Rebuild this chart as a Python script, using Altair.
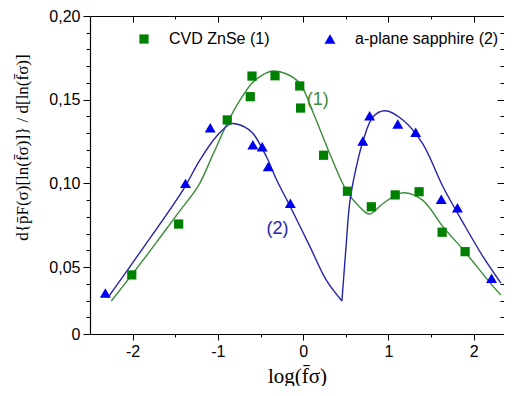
import altair as alt
import pandas as pd

# ---------------- data ----------------
zn_x = [-2.01, -1.46, -0.89, -0.60, -0.62, -0.33, -0.04, -0.03, 0.24, 0.52, 0.80, 1.08, 1.36, 1.63, 1.90]
zn_y = [0.0453, 0.0757, 0.1379, 0.1641, 0.1518, 0.1643, 0.1582, 0.1450, 0.1168, 0.0953, 0.0860, 0.0931, 0.0950, 0.0708, 0.0592]

sa_x = [-2.32, -1.38, -1.09, -0.59, -0.48, -0.41, -0.15, 0.70, 0.78, 1.11, 1.32, 1.62, 1.81, 2.21]
sa_y = [0.0345, 0.1000, 0.1333, 0.1231, 0.1219, 0.1100, 0.0881, 0.1253, 0.1404, 0.1355, 0.1305, 0.0905, 0.0855, 0.0433]

fit1_x = [-2.25, -2.0, -1.78, -1.46, -1.23, -1.06, -0.89, -0.75, -0.60, -0.47, -0.35, -0.20, -0.04, 0.12, 0.31,
          0.51, 0.66, 0.78, 0.94, 1.17, 1.40, 1.64, 1.88, 2.23, 2.32]
fit1_y = [0.0297, 0.0460, 0.0607, 0.0827, 0.0985, 0.1170, 0.1360, 0.1490, 0.1598, 0.1650, 0.1671, 0.1655, 0.1598,
          0.1419, 0.1180, 0.0955, 0.0860, 0.0817, 0.0881, 0.0944, 0.0900, 0.0741, 0.0602, 0.0383, 0.0333]

# fit (2) has a cusp at its minimum: two branches
fit2a_x = [-2.29, -1.88, -1.41, -1.21, -1.02, -0.84, -0.70, -0.59, -0.43, -0.31, -0.15, 0.08, 0.27, 0.455]
fit2a_y = [0.0317, 0.0612, 0.0960, 0.1140, 0.1279, 0.1357, 0.1340, 0.1299, 0.1159, 0.1020, 0.0860, 0.0622, 0.0423, 0.0297]
fit2b_x = [0.455, 0.50, 0.55, 0.62, 0.70, 0.82, 0.96, 1.17, 1.40, 1.64, 1.88, 2.11, 2.32]
fit2b_y = [0.0297, 0.0600, 0.0900, 0.1090, 0.1249, 0.1398, 0.1434, 0.1379, 0.1239, 0.0980, 0.0761, 0.0562, 0.0404]

series_names = ["CVD ZnSe (1)", "a-plane sapphire (2)"]
curve_labels = ["(1)", "(2)"]
label_x = [0.17, -0.30]
label_y = [0.1498, 0.0726]

x_major = [-2, -1, 0, 1, 2]
x_minor = [-1.5, -0.5, 0.5, 1.5]
y_major = [0.01, 0.05, 0.10, 0.15, 0.20]
y_minor = [0.02, 0.03, 0.04, 0.06, 0.07, 0.08, 0.09, 0.11, 0.12, 0.13, 0.14, 0.16, 0.17, 0.18, 0.19]

# ---------------- frames ----------------
pts = pd.DataFrame({
    "x": zn_x + sa_x,
    "y": zn_y + sa_y,
    "series": [series_names[0]] * len(zn_x) + [series_names[1]] * len(sa_x),
})
l1 = pd.DataFrame({"x": fit1_x, "y": fit1_y})
l2 = pd.DataFrame({"x": fit2a_x + fit2b_x, "y": fit2a_y + fit2b_y,
                   "seg": ["a"] * len(fit2a_x) + ["b"] * len(fit2b_x)})
lab1 = pd.DataFrame({"x": [label_x[0]], "y": [label_y[0]], "t": [curve_labels[0]]})
lab2 = pd.DataFrame({"x": [label_x[1]], "y": [label_y[1]], "t": [curve_labels[1]]})

xs = alt.Scale(domain=[-2.5, 2.356], nice=False, zero=False)
ys = alt.Scale(domain=[0.01, 0.20], nice=False, zero=False)

GREEN_M = "#008000"
BLUE_M = "#0000f0"
GREEN_L = "#3c8c3c"
BLUE_L = "#2424a8"

SANS = "Liberation Sans"
SERIF = "Liberation Serif"

def blank_axis(orient, values, size, offset, domain=False):
    return alt.Axis(orient=orient, values=values, tickSize=size, offset=offset, labels=False,
                    title=None, grid=False, domain=domain, ticks=True, tickColor="black",
                    domainColor="black", tickWidth=1)

# green fit line: main labelled axes
la = alt.Chart(l1).mark_line(color=GREEN_L, strokeWidth=1.4, interpolate="catmull-rom").encode(
    x=alt.X("x:Q", scale=xs, axis=alt.Axis(
        orient="bottom", values=x_major, tickSize=6, labelExpr="'' + datum.value",
        labelFont=SANS, labelFontSize=16, labelColor="black", labelPadding=3,
        title="log(f̄σ)", titleFont=SERIF, titleFontSize=21, titleFontWeight="normal",
        titleColor="black", titleY=48, titleBaseline="alphabetic",
        grid=False, domainColor="black", tickColor="black", domainWidth=1.2)),
    y=alt.Y("y:Q", scale=ys, axis=alt.Axis(
        orient="left", values=y_major, tickSize=7,
        labelExpr="datum.value < 0.02 ? '0' : replace(format(datum.value, '.2f'), '.', ',')",
        labelFont=SANS, labelFontSize=16, labelColor="black", labelPadding=3,
        title="d{p̄F(σ)[ln(f̄σ)]} / d[ln(f̄σ)]", titleFont=SERIF, titleFontSize=17,
        titleFontWeight="normal", titleColor="black", titleX=-68, titleY=131,
        titleBaseline="middle", titleAngle=-90,
        grid=False, domainColor="black", tickColor="black", domainWidth=1.2)),
)

# blue fit line: minor ticks on bottom / left
lb = alt.Chart(l2).mark_line(color=BLUE_L, strokeWidth=1.4, interpolate="catmull-rom").encode(
    x=alt.X("x:Q", scale=xs, axis=blank_axis("bottom", x_minor, 3, 0)),
    y=alt.Y("y:Q", scale=ys, axis=blank_axis("left", y_minor, 4, 0)),
    detail="seg:N",
)

# points: major ticks inside on top / right
pc = alt.Chart(pts).mark_point(filled=True, opacity=1, strokeWidth=0).encode(
    x=alt.X("x:Q", scale=xs, axis=blank_axis("top", x_major, 6, -6)),
    y=alt.Y("y:Q", scale=ys, axis=blank_axis("right", y_major, 7, -7)),
    color=alt.Color("series:N", scale=alt.Scale(domain=series_names, range=[GREEN_M, BLUE_M]),
                    legend=alt.Legend(orient="none", legendX=46, legendY=15, direction="horizontal",
                                      columns=2, columnPadding=52, title=None, labelFont=SANS,
                                      labelFontSize=16, labelColor="black", labelOffset=17,
                                      padding=0, symbolStrokeWidth=0)),
    shape=alt.Shape("series:N", scale=alt.Scale(domain=series_names, range=["square", "triangle-up"])),
    size=alt.Size("series:N", scale=alt.Scale(domain=series_names, range=[85, 120])),
)

# curve label (1): minor ticks inside on top / right
t1 = alt.Chart(lab1).mark_text(font=SANS, fontSize=18, color=GREEN_L).encode(
    x=alt.X("x:Q", scale=xs, axis=blank_axis("top", x_minor, 3, -3)),
    y=alt.Y("y:Q", scale=ys, axis=blank_axis("right", y_minor, 4, -4)),
    text="t:N",
)

# curve label (2): top frame line
t2 = alt.Chart(lab2).mark_text(font=SANS, fontSize=18, color=BLUE_L).encode(
    x=alt.X("x:Q", scale=xs, axis=alt.Axis(orient="top", ticks=False, labels=False, title=None,
                                           grid=False, domain=True, domainColor="black",
                                           domainWidth=1.2)),
    y=alt.Y("y:Q", scale=ys, axis=None),
    text="t:N",
)

chart = alt.layer(la, lb, pc, t1, t2).resolve_axis(x="independent", y="independent").properties(
    width=414, height=318,
    autosize=alt.AutoSizeParams(type="none"),
    padding={"left": 82, "top": 8, "right": 0, "bottom": 52},
).configure_view(stroke=None)

chart.save("out.html", embed_options={"renderer": "svg", "actions": False})
